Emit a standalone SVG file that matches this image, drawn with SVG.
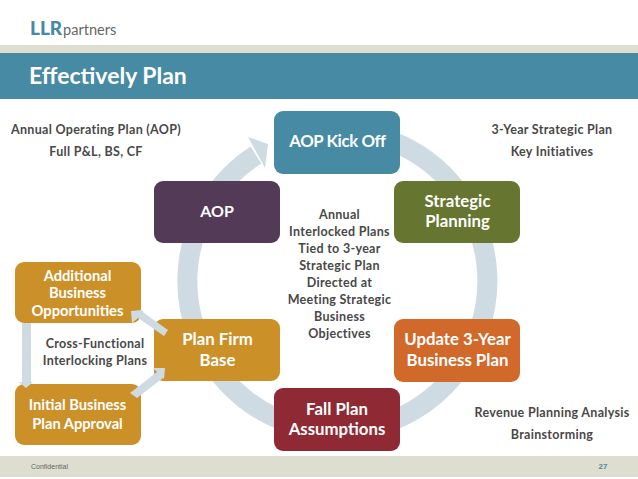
<svg xmlns="http://www.w3.org/2000/svg" width="638" height="479" viewBox="0 0 638 479">
<style>
text{font-family:Lato,"Open Sans","Liberation Sans",sans-serif;text-anchor:middle}
.box{stroke:none}
.n{font-size:16.8px;font-weight:700;fill:#fff}
.s{font-size:14.7px;font-weight:700;fill:#fff}
.l{font-size:12.5px;font-weight:700;fill:#484848;letter-spacing:.3px}
.a{fill:#cfdbe3}
</style>
<rect width="638" height="479" fill="#fff"/>
<g id="header">
<rect y="45" width="638" height="8" fill="#deded0"/>
<rect y="53" width="638" height="46" fill="#468aa4"/>
<text x="30" y="35" style="text-anchor:start;font-size:19px;font-weight:900;fill:#468aa4">LLR</text>
<text x="63" y="35" style="text-anchor:start;font-size:14.6px;fill:#666">partners</text>
<text x="29" y="84" style="text-anchor:start;font-size:23px;font-weight:700;fill:#fff">Effectively Plan</text>
</g>
<g id="footer">
<rect y="456" width="638" height="21" fill="#deded0"/>
<text x="31" y="469" style="text-anchor:start;font-family:'Liberation Sans',sans-serif;font-size:7px;fill:#666">Confidential</text>
<text x="603" y="469" style="font-family:'Liberation Sans',sans-serif;font-size:8px;font-weight:700;fill:#468aa4">27</text>
</g>
<g id="ring">
<path d="M337.5 131A150 150 0 1 1 256 155" fill="none" stroke="#cfdbe3" stroke-width="20"/>
<polygon class="a" points="268,144 248,137 265,168"/>
</g>
<g id="aop-kick-off"><rect class="box" x="274" y="111" width="126" height="63" rx="9" fill="#468aa4"/><text class="n" x="337.5" y="147" style="letter-spacing:-.4px">AOP Kick Off</text></g>
<g id="strategic-planning"><rect class="box" x="394" y="181" width="126" height="62" rx="9" fill="#66752f"/><text class="n" x="457.5" y="207">Strategic</text><text class="n" x="457.5" y="227">Planning</text></g>
<g id="update-plan"><rect class="box" x="394" y="319" width="126" height="63" rx="9" fill="#d1692b"/><text class="n" x="457.5" y="345">Update 3-Year</text><text class="n" x="457.5" y="366">Business Plan</text></g>
<g id="fall-plan"><rect class="box" x="274" y="388" width="126" height="63" rx="9" fill="#8f2a35"/><text class="n" x="337" y="415">Fall Plan</text><text class="n" x="337" y="435">Assumptions</text></g>
<g id="plan-firm-base"><rect class="box" x="154" y="319" width="126" height="62" rx="9" fill="#cc9028"/><text class="n" x="217.5" y="345">Plan Firm</text><text class="n" x="217.5" y="366">Base</text></g>
<g id="aop"><rect class="box" x="154" y="181" width="126" height="62" rx="9" fill="#533a56"/><text class="n" x="217" y="217" style="font-size:16px">AOP</text></g>
<g id="additional"><rect class="box" x="15" y="262" width="126" height="61" rx="9" fill="#cc9028"/><text class="s" x="77.5" y="281">Additional</text><text class="s" x="77.5" y="298">Business</text><text class="s" x="77.5" y="316">Opportunities</text></g>
<g id="initial"><rect class="box" x="15" y="384" width="126" height="61" rx="9" fill="#cc9028"/><text class="s" x="77.5" y="410">Initial Business</text><text class="s" x="77.5" y="429">Plan Approval</text></g>
<g id="connectors">
<polygon class="a" points="22,323 31,323 31,382 33,382 26,388 19,382 22,382"/>
<polygon class="a" points="130,393 137,398 163,378 164,379 165,368 153,368 157,372"/>
<polygon class="a" points="168,330 164,336 138,318 132,323 131,311 142,310 144,313"/>
</g>
<g id="labels">
<text class="l" x="96" y="134">Annual Operating Plan (AOP)</text>
<text class="l" x="96" y="156">Full P&amp;L, BS, CF</text>
<text class="l" x="552" y="134">3-Year Strategic Plan</text>
<text class="l" x="552" y="156">Key Initiatives</text>
<text class="l" x="552" y="417">Revenue Planning Analysis</text>
<text class="l" x="552" y="439">Brainstorming</text>
<text class="l" x="95" y="348">Cross-Functional</text>
<text class="l" x="95" y="365">Interlocking Plans</text>
<text class="l" x="339.5" y="219">Annual</text>
<text class="l" x="339.5" y="236">Interlocked Plans</text>
<text class="l" x="339.5" y="253">Tied to 3-year</text>
<text class="l" x="339.5" y="270">Strategic Plan</text>
<text class="l" x="339.5" y="287">Directed at</text>
<text class="l" x="339.5" y="304">Meeting Strategic</text>
<text class="l" x="339.5" y="321">Business</text>
<text class="l" x="339.5" y="338">Objectives</text>
</g>
</svg>
